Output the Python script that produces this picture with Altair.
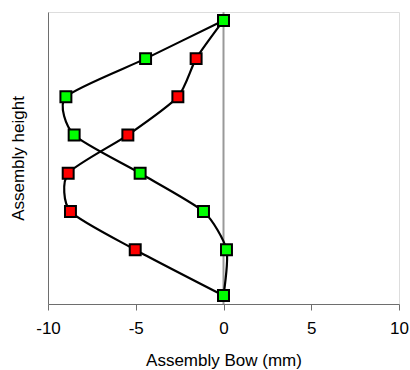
import altair as alt
import pandas as pd

heights = [0, 1.2, 2.2, 3.2, 4.2, 5.2, 6.2, 7.2]
green_bow = [0.0, 0.17, -1.14, -4.75, -8.51, -8.98, -4.44, 0.0]
red_bow = [0.0, -5.03, -8.72, -8.85, -5.45, -2.6, -1.56, 0.0]
x_ticks = [-10, -5, 0, 5, 10]

rows = []
for h, v in zip(heights, red_bow):
    rows.append({"series": "red", "height": h, "bow": v})
for h, v in zip(heights, green_bow):
    rows.append({"series": "green", "height": h, "bow": v})
df = pd.DataFrame(rows)

FONT = "Liberation Sans"
x_scale = alt.Scale(domain=[-10, 10], nice=False, zero=False)
y_scale = alt.Scale(domain=[-0.22, 7.42], nice=False, zero=False)

zero_line = alt.Chart(pd.DataFrame({"x": [0]})).mark_rule(color="#999999", strokeWidth=2).encode(
    x=alt.X("x:Q", scale=x_scale)
)

lines = alt.Chart(df).mark_line(color="black", strokeWidth=2.2, interpolate="cardinal", tension=0.35).encode(
    x=alt.X("bow:Q", scale=x_scale,
            axis=alt.Axis(title="Assembly Bow (mm)", values=x_ticks, grid=False, tickSize=6,
                          tickColor="#6e6e6e", domainColor="#6e6e6e", labelFontSize=17,
                          titleFontSize=17, labelFont=FONT, titleFont=FONT, labelColor="black",
                          titleColor="black", titleFontWeight="normal", labelPadding=10,
                          titlePadding=16, labelFlush=False, labelExpr="toString(datum.value)")),
    y=alt.Y("height:Q", scale=y_scale,
            axis=alt.Axis(title="Assembly height", labels=False, ticks=False, grid=False,
                          domainColor="#6e6e6e", titleFontSize=17, titleFont=FONT,
                          titleColor="black", titleFontWeight="normal", titlePadding=21)),
    detail="series:N",
    order="height:Q",
)

points = alt.Chart(df).mark_point(shape="square", filled=True, size=120, stroke="black",
                                  strokeWidth=2, opacity=1).encode(
    x=alt.X("bow:Q", scale=x_scale),
    y=alt.Y("height:Q", scale=y_scale),
    fill=alt.Fill("series:N", scale=alt.Scale(domain=["green", "red"], range=["#00ff00", "#ff0000"]),
                  legend=None),
)

chart = alt.layer(zero_line, lines, points).properties(
    width=351, height=292,
    padding={"left": 48, "top": 12, "right": 11, "bottom": 66},
    autosize=alt.AutoSizeParams(type="none"),
).configure_view(stroke="#8c8c8c", strokeWidth=1.5).configure(background="white")

chart.save("out.html", embed_options={"renderer": "svg", "actions": False})
